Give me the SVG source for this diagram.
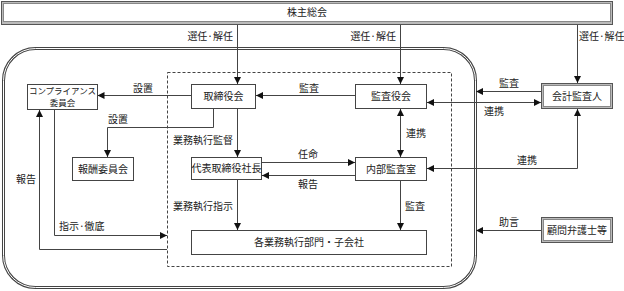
<svg xmlns="http://www.w3.org/2000/svg" width="624" height="291" viewBox="0 0 624 291">
<style>
text{font-family:"Noto Sans CJK JP","Noto Sans",sans-serif;font-size:10px;fill:#222;}
.c{text-anchor:middle;}
.e{text-anchor:end;}
.s{font-size:8.5px;}
.box{fill:#fff;stroke:#444;stroke-width:1;}
.dbo{fill:#bbb;stroke:#555;stroke-width:1;}
.dbi{fill:#fff;stroke:#888;stroke-width:1;}
.ln{fill:none;stroke:#444;stroke-width:1;}
.a{marker-end:url(#ah);}
.ab{marker-start:url(#ah);marker-end:url(#ah);}
</style>
<defs>
<marker id="ah" viewBox="0 0 8 8" refX="8" refY="4" markerWidth="7" markerHeight="7" markerUnits="userSpaceOnUse" orient="auto-start-reverse">
<path d="M0,0 L8,4 L0,8 z" fill="#111"/>
</marker>
</defs>

<g id="frame">
<rect x="3.5" y="48.5" width="472" height="239" rx="32" fill="none" stroke="#444" stroke-width="3"/>
<rect x="3.5" y="48.5" width="472" height="239" rx="32" fill="none" stroke="#fff" stroke-width="1"/>
<rect x="167.5" y="72.5" width="284" height="194" fill="none" stroke="#444" stroke-width="1" stroke-dasharray="3,2"/>
</g>

<g id="shareholders">
<rect class="dbo" x="1.5" y="1.5" width="611" height="23"/>
<rect class="dbi" x="3.5" y="3.5" width="607" height="18"/>
<text class="c" x="307" y="16">株主総会</text>
</g>

<g id="compliance">
<rect class="box" x="27.5" y="84.5" width="70" height="25"/>
<text class="c s" x="62.5" y="94">コンプライアンス</text>
<text class="c s" x="62.5" y="106">委員会</text>
</g>

<g id="board">
<rect class="box" x="191.5" y="84.5" width="64" height="24"/>
<text class="c" x="223.5" y="100">取締役会</text>
</g>

<g id="auditboard">
<rect class="box" x="355.5" y="84.5" width="71" height="24"/>
<text class="c" x="391" y="100">監査役会</text>
</g>

<g id="accountant">
<rect class="dbo" x="541.5" y="83.5" width="71" height="25"/>
<rect class="dbi" x="543.5" y="85.5" width="67" height="21"/>
<text class="c" x="577" y="100">会計監査人</text>
</g>

<g id="remuneration">
<rect class="box" x="72.5" y="157.5" width="61" height="23"/>
<text class="c" x="103" y="173">報酬委員会</text>
</g>

<g id="president">
<rect class="box" x="191.5" y="157.5" width="70" height="22"/>
<text class="c" x="226.5" y="172">代表取締役社長</text>
</g>

<g id="internalaudit">
<rect class="box" x="355.5" y="157.5" width="71" height="23"/>
<text class="c" x="391" y="173">内部監査室</text>
</g>

<g id="departments">
<rect class="box" x="191.5" y="230.5" width="235" height="24"/>
<text class="c" x="309" y="246">各業務執行部門・子会社</text>
</g>

<g id="lawyers">
<rect class="dbo" x="541.5" y="217.5" width="71" height="25"/>
<rect class="dbi" x="543.5" y="219.5" width="67" height="21"/>
<text class="c" x="577" y="234">顧問弁護士等</text>
</g>

<g id="connectors">
<path class="ln a" d="M237.5,25 V84"/>
<path class="ln a" d="M400.5,25 V84"/>
<path class="ln a" d="M577.5,25 V83"/>
<path class="ln a" d="M191,95.5 H97.5"/>
<path class="ln a" d="M213.5,109 V127.5 H107.5 V157"/>
<path class="ln a" d="M237.5,109 V157"/>
<path class="ln a" d="M355,95.5 H256"/>
<path class="ln ab" d="M427,102.5 H541"/>
<path class="ln a" d="M541,91.5 H476"/>
<path class="ln ab" d="M400.5,109 V157"/>
<path class="ln a" d="M262,162.5 H355"/>
<path class="ln a" d="M355,175.5 H262"/>
<path class="ln ab" d="M577.5,109 V168.5 H427"/>
<path class="ln a" d="M237.5,180 V230"/>
<path class="ln a" d="M400.5,181 V230"/>
<path class="ln a" d="M541,230.5 H476"/>
<path class="ln a" d="M167,249.5 H39.5 V110"/>
<path class="ln a" d="M54.5,110 V235.5 H167"/>
</g>

<g id="labels">
<text class="e" x="233" y="40">選任·解任</text>
<text class="e" x="396" y="40">選任·解任</text>
<text x="579" y="40">選任·解任</text>
<text x="133" y="92">設置</text>
<text x="108" y="123">設置</text>
<text x="173" y="144">業務執行監督</text>
<text x="299" y="92">監査</text>
<text x="499" y="87">監査</text>
<text x="484" y="115">連携</text>
<text x="406" y="137">連携</text>
<text x="298" y="158">任命</text>
<text x="298" y="188">報告</text>
<text x="517" y="164">連携</text>
<text x="173" y="210">業務執行指示</text>
<text x="405" y="210">監査</text>
<text x="499" y="226">助言</text>
<text x="16" y="183">報告</text>
<text x="59" y="230">指示·徹底</text>
</g>
</svg>
